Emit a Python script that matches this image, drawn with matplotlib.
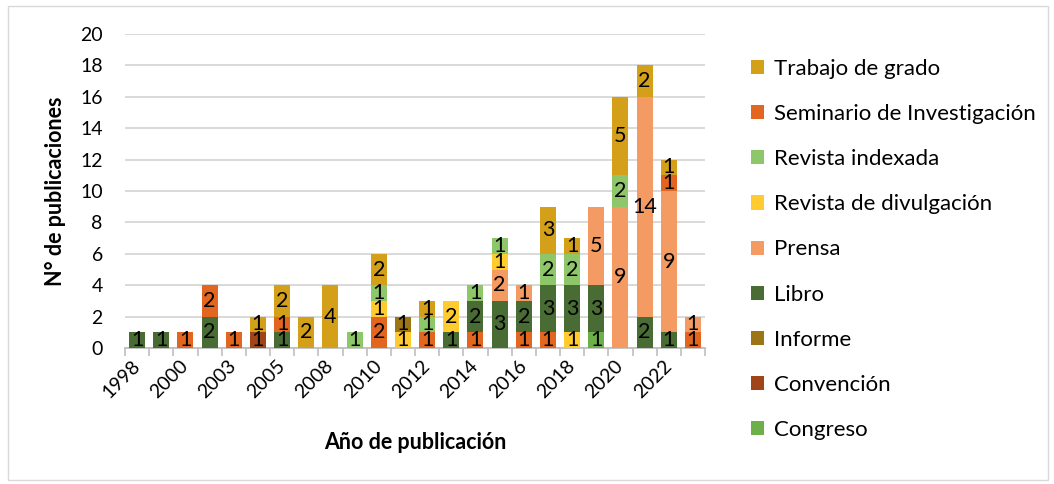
import matplotlib
matplotlib.use("Agg")
import matplotlib.pyplot as plt
from matplotlib.patches import Patch, Rectangle
import matplotlib.transforms as mtransforms
import numpy as np

plt.rcParams["font.family"] = ["Lato", "DejaVu Sans"]

# categories on the x axis (only every other one gets a label)
years = ["1998", "1999", "2000", "2002", "2003", "2004", "2005", "2007",
         "2008", "2009", "2010", "2011", "2012", "2013", "2014", "2015",
         "2016", "2017", "2018", "2019", "2020", "2021", "2022", "2023"]

# stacked segments, bottom to top inside each year, as drawn in the original
seg_year = ["1998", "1999", "2000",
            "2002", "2002",
            "2003",
            "2004", "2004",
            "2005", "2005", "2005",
            "2007", "2008", "2009",
            "2010", "2010", "2010", "2010",
            "2011", "2011",
            "2012", "2012", "2012",
            "2013", "2013",
            "2014", "2014", "2014",
            "2015", "2015", "2015", "2015",
            "2016", "2016", "2016",
            "2017", "2017", "2017", "2017",
            "2018", "2018", "2018", "2018",
            "2019", "2019", "2019",
            "2020", "2020", "2020",
            "2021", "2021", "2021",
            "2022", "2022", "2022", "2022",
            "2023", "2023"]
seg_type = ["Libro", "Libro", "Seminario de Investigación",
            "Libro", "Seminario de Investigación",
            "Seminario de Investigación",
            "Convención", "Trabajo de grado",
            "Libro", "Seminario de Investigación", "Trabajo de grado",
            "Trabajo de grado", "Trabajo de grado", "Revista indexada",
            "Seminario de Investigación", "Revista de divulgación", "Revista indexada", "Trabajo de grado",
            "Revista de divulgación", "Informe",
            "Seminario de Investigación", "Revista indexada", "Trabajo de grado",
            "Libro", "Revista de divulgación",
            "Seminario de Investigación", "Libro", "Revista indexada",
            "Libro", "Prensa", "Revista de divulgación", "Revista indexada",
            "Seminario de Investigación", "Libro", "Prensa",
            "Seminario de Investigación", "Libro", "Revista indexada", "Trabajo de grado",
            "Revista de divulgación", "Libro", "Revista indexada", "Trabajo de grado",
            "Congreso", "Libro", "Prensa",
            "Prensa", "Revista indexada", "Trabajo de grado",
            "Libro", "Prensa", "Trabajo de grado",
            "Libro", "Prensa", "Seminario de Investigación", "Trabajo de grado",
            "Seminario de Investigación", "Prensa"]
seg_value = [1, 1, 1,
             2, 2,
             1,
             1, 1,
             1, 1, 2,
             2, 4, 1,
             2, 1, 1, 2,
             1, 1,
             1, 1, 1,
             1, 2,
             1, 2, 1,
             3, 2, 1, 1,
             1, 2, 1,
             1, 3, 2, 3,
             1, 3, 2, 1,
             1, 3, 5,
             9, 2, 5,
             2, 14, 2,
             1, 9, 1, 1,
             1, 1]

# legend order, top to bottom
types = ["Trabajo de grado", "Seminario de Investigación", "Revista indexada",
         "Revista de divulgación", "Prensa", "Libro", "Informe", "Convención",
         "Congreso"]
colors = {
    "Trabajo de grado": "#D4A01A",
    "Seminario de Investigación": "#E2661F",
    "Revista indexada": "#8DC76A",
    "Revista de divulgación": "#FFCB2E",
    "Prensa": "#F39B62",
    "Libro": "#486C34",
    "Informe": "#9C7514",
    "Convención": "#A0441A",
    "Congreso": "#6DB04A",
}

GRID = "#D9D9D9"
AXIS = "#BFBFBF"

fig = plt.figure(figsize=(10.54, 4.84), dpi=100)
ax = fig.add_axes([125 / 1054, 136 / 484, 580 / 1054, 314 / 484])

bottoms = np.zeros(len(years))
for yr, tp, v in zip(seg_year, seg_type, seg_value):
    i = years.index(yr)
    ax.bar(i, v, bottom=bottoms[i], width=0.66, color=colors[tp], zorder=3)
    ax.text(i, bottoms[i] + v / 2, str(v), ha="center", va="center",
            fontsize=15.5, color="black", zorder=4)
    bottoms[i] += v

ax.set_xlim(-0.5, len(years) - 0.5)
ax.set_ylim(0, 20)
ax.set_yticks(np.arange(0, 21, 2))
ax.yaxis.grid(True, color=GRID, lw=1.4, zorder=0)
ax.tick_params(axis="y", length=0, pad=16, labelsize=14)

ax.set_xticks(np.arange(0, len(years), 2))
ax.set_xticklabels(years[::2], rotation=45, ha="right", va="center",
                   rotation_mode="anchor", fontsize=14)
shift = mtransforms.ScaledTranslation(12 / 100, 0, fig.dpi_scale_trans)
for lab in ax.get_xticklabels():
    lab.set_transform(lab.get_transform() + shift)
ax.set_xticks(np.arange(-0.5, len(years), 1), minor=True)
ax.tick_params(axis="x", which="major", length=0, pad=11)
ax.tick_params(axis="x", which="minor", length=6, color=AXIS, width=1.2)

for s in ["top", "right", "left"]:
    ax.spines[s].set_visible(False)
ax.spines["bottom"].set_color(AXIS)
ax.spines["bottom"].set_linewidth(1.3)

ax.set_ylabel("N° de publicaciones", fontsize=15.5, fontweight="bold", labelpad=10)
ax.set_xlabel("Año de publicación", fontsize=15.5, fontweight="bold", labelpad=22)

handles = [Patch(facecolor=colors[t]) for t in types]
fig.legend(handles, types, loc="upper left", bbox_to_anchor=(751 / 1054, 1 - 59 / 484),
           frameon=False, fontsize=16, handlelength=0.6, handleheight=0.6,
           handletextpad=0.45, labelspacing=1.13, borderpad=0, borderaxespad=0)

fig.patches.append(Rectangle((8 / 1054, 4 / 484), 1040 / 1054, 474 / 484,
                             transform=fig.transFigure, fill=False,
                             edgecolor=GRID, lw=1.0))

fig.savefig("out.png", dpi=100, facecolor="white")
